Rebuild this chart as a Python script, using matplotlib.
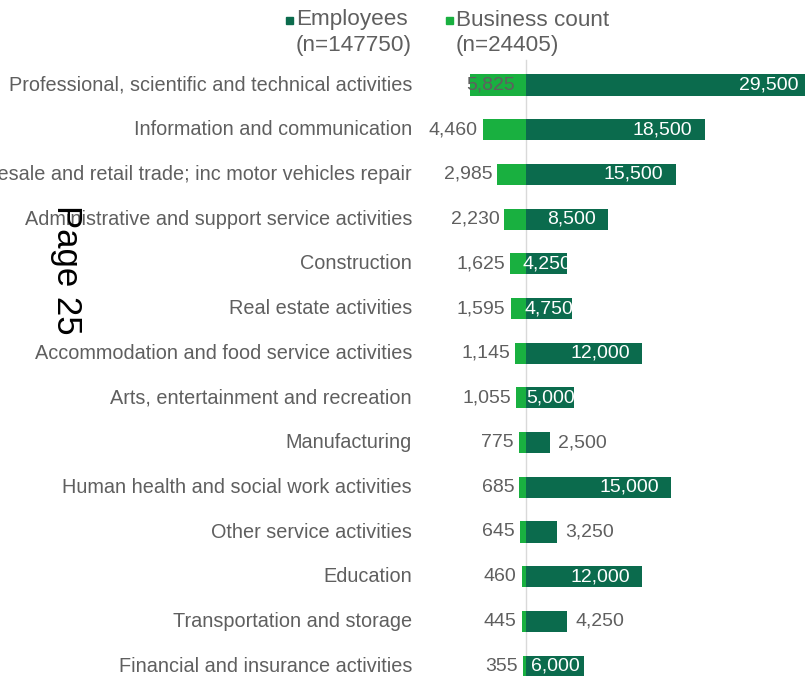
import matplotlib
matplotlib.use("Agg")
import matplotlib.pyplot as plt
from matplotlib.patches import Rectangle

# Data
categories = [
    "Professional, scientific and technical activities",
    "Information and communication",
    "Wholesale and retail trade; inc motor vehicles repair",
    "Administrative and support service activities",
    "Construction",
    "Real estate activities",
    "Accommodation and food service activities",
    "Arts, entertainment and recreation",
    "Manufacturing",
    "Human health and social work activities",
    "Other service activities",
    "Education",
    "Transportation and storage",
    "Financial and insurance activities",
]
business_count = [5825, 4460, 2985, 2230, 1625, 1595, 1145, 1055, 775, 685, 645, 460, 445, 355]
employees = [29500, 18500, 15500, 8500, 4250, 4750, 12000, 5000, 2500, 15000, 3250, 12000, 4250, 6000]
# how the employee label sits: inside end, too wide for the bar, or outside end
employee_label_mode = ["in", "in", "in", "in", "wide", "wide", "in", "wide",
                       "out", "in", "out", "in", "out", "wide"]
legend_names = ["Employees", "Business count"]
legend_counts = ["(n=147750)", "(n=24405)"]

dark_green = "#0b6b4d"
light_green = "#19b040"
grey = "#5f5f5f"

plt.rcParams["font.family"] = ["Liberation Sans", "DejaVu Sans"]

W, H = 805, 676
fig = plt.figure(figsize=(W / 100, H / 100), dpi=100)

# axes: left edge at plot-area edge, zero line at x=526px
left_px, zero_px, px_per_k = 466, 526, 9.65
ax = fig.add_axes([left_px / W, 0, 1 - left_px / W, 1])
ax.set_xlim((left_px - zero_px) / px_per_k * 1000, (W - zero_px) / px_per_k * 1000)
row0, step = 85, 44.7
ax.set_ylim((H - row0) / step, -row0 / step)
ax.axis("off")


def px(n):
    # pixel distance -> data units along x
    return n / px_per_k * 1000


ypos = list(range(len(categories)))
ax.plot([0, 0], [-0.55, len(categories)], color="#d9d9d9", lw=1, zorder=1)

ax.barh(ypos, [-b for b in business_count], height=0.47, color=light_green, zorder=2)
bars = ax.barh(ypos, employees, height=0.47, color=dark_green, zorder=3)

cat_fs = 14.3
val_fs = 14.0
for i, (cat, b, e) in enumerate(zip(categories, business_count, employees)):
    ax.text(px(412 - zero_px), i, cat, ha="right", va="center", color=grey,
            fontsize=cat_fs, clip_on=False)

    # business count labels; the one that would run into the category
    # labels gets pushed inside the plot area like Excel does
    if -b - px(55) < px(420 - zero_px):
        ax.text(ax.get_xlim()[0], i, f"{b:,}", ha="left", va="center",
                color=grey, fontsize=val_fs, zorder=5)
    else:
        ax.text(-b - px(5), i, f"{b:,}", ha="right", va="center", color=grey,
                fontsize=val_fs, zorder=5)

    mode = employee_label_mode[i]
    if mode == "in":
        ax.text(e - px(12), i, f"{e:,}", ha="right", va="center", color="white",
                fontsize=val_fs, zorder=5)
    elif mode == "out":
        ax.text(e + px(8), i, f"{e:,}", ha="left", va="center", color=grey,
                fontsize=val_fs, zorder=5)
    else:
        # label wider than the bar: centred and cut off at the bar edges
        t = ax.text(e / 2, i, f"{e:,}", ha="center", va="center", color="white",
                    fontsize=val_fs, zorder=5)
        t.set_clip_path(bars[i])

# legend drawn by hand so the marker sits on the first line
for x0, col, name, cnt in [(286, dark_green, legend_names[0], legend_counts[0]),
                           (446, light_green, legend_names[1], legend_counts[1])]:
    fig.patches.append(Rectangle((x0 / W, 1 - 24 / H), 7 / W, 7 / H, color=col,
                                 transform=fig.transFigure, figure=fig))
    fig.text((x0 + 10) / W, 1 - 20 / H, name, color=grey, fontsize=16.2,
             ha="left", va="center")
    fig.text((x0 + 10) / W, 1 - 45 / H, cnt, color=grey, fontsize=16.2,
             ha="left", va="center")

# page stamp overlaid on the chart
fig.text(66 / W, 1 - 270 / H, "Page 25", rotation=270, color="black", fontsize=25,
         ha="center", va="center")

fig.savefig("out.png", dpi=100)
